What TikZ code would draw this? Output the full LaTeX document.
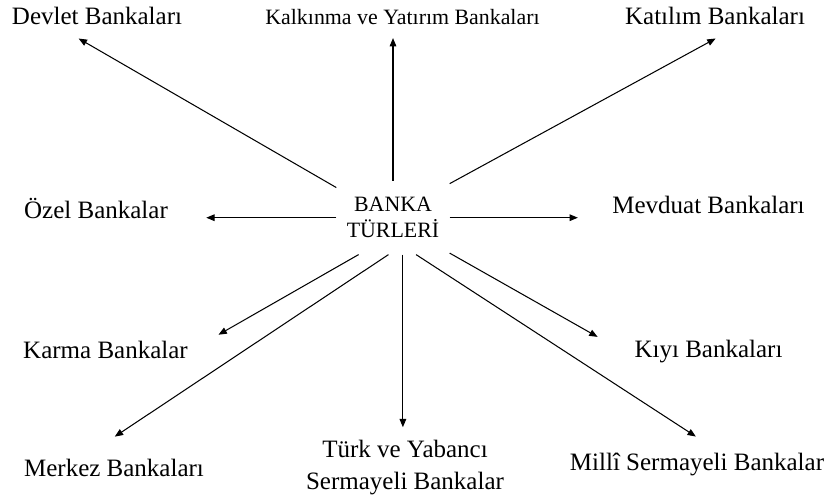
\documentclass[tikz,border=0pt]{standalone}
\usepackage{fontspec}
\setmainfont{Liberation Serif}
\usetikzlibrary{arrows.meta}
\begin{document}
\begin{tikzpicture}[x=0.48pt, y=-0.48pt, line width=0.5pt,
  main node/.style={inner xsep=4.8pt, inner ysep=7.7pt, align=center, font=\fontsize{10.5}{12.48}\selectfont},
  type node/.style={inner sep=0pt, font=\fontsize{12}{15.4}\selectfont, text height=8.4pt, text depth=2.64pt},
  small node/.style={type node, font=\fontsize{10.5}{12.48}\selectfont},
  two node/.style={inner sep=0pt, align=center, font=\fontsize{12}{15.36}\selectfont},
  arr/.style={-{Triangle[length=4pt,width=3.2pt]}}]
\useasboundingbox (0,0) rectangle (828,495);
\node [main node] (bt) at (393,217.7) {BANKA\\TÜRLERİ};
\begin{scope}[every node/.style={type node}]
\node (dev) at (97,19) {Devlet Bankaları};
\node [small node] (kal) at (402.5,19) {Kalkınma ve Yatırım Bankaları};
\node (kat) at (715,19) {Katılım Bankaları};
\node (oz) at (96,212) {Özel Bankalar};
\node (mev) at (708.5,207) {Mevduat Bankaları};
\node (kar) at (105.5,352) {Karma Bankalar};
\node (kiy) at (708.5,351) {Kıyı Bankaları};
\node (mer) at (114,470) {Merkez Bankaları};
\node (mil) at (697,464) {Millî Sermayeli Bankalar};
\end{scope}
\node [two node] (turk) at (405,467.2) {Türk ve Yabancı\\Sermayeli Bankalar};
% oklar
\path [arr]
    (bt.152) edge [shorten >=7.2pt] (dev.201)
    (bt.north) edge [shorten >=3.4pt] (bt.north |- kal.south)
    (bt.31) edge [shorten >=7.5pt] (kat.-40)
    (bt.west) edge [shorten >=18.2pt] (bt.west -| oz.east)
    (bt.east) edge [shorten >=16.3pt] (bt.east -| mev.west)
    (bt.227) edge [shorten >=16.7pt] (kar.east)
    (bt.263) edge [shorten >=18.5pt] (mer.159)
    (bt.-75) edge [shorten >=5.8pt] (bt.-75 |- turk.north)
    (bt.-32) edge [shorten >=20.1pt] (kiy.185)
    (bt.-58) edge [shorten >=13.6pt] (mil.28)
         ;
\end{tikzpicture}
\end{document}
